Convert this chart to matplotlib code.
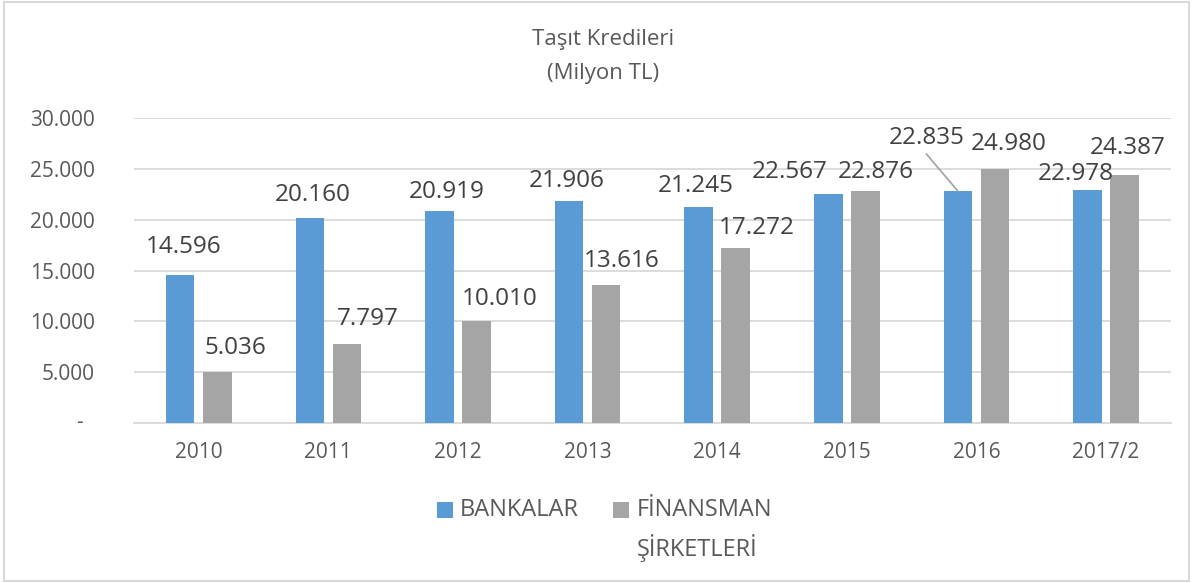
import matplotlib

matplotlib.use("Agg")
import matplotlib.pyplot as plt
import numpy as np
from matplotlib.patches import Rectangle
from matplotlib.ticker import FuncFormatter

plt.rcParams["font.family"] = ["Open Sans", "DejaVu Sans"]

years = ["2010", "2011", "2012", "2013", "2014", "2015", "2016", "2017/2"]
bankalar = [14596, 20160, 20919, 21906, 21245, 22567, 22835, 22978]
finansman = [5036, 7797, 10010, 13616, 17272, 22876, 24980, 24387]

BLUE = "#5B9BD5"
GRAY = "#A5A5A5"
GRID = "#D9D9D9"
TXT = "#595959"
LBL = "#404040"

# label offsets in pixels from bar top (Excel placed them by hand-ish)
off_b = [(3, 28), (3, 23), (7, 19), (-2, 20), (-3, 21), (-39, 22), (-31, 53), (-12, 16)]
off_f = [(18, 24), (21, 25), (23, 22), (16, 24), (21, 20), (10, 19), (14, 25), (3, 27)]

W, H = 1192, 583
fig = plt.figure(figsize=(W / 100, H / 100), dpi=100)
ax = fig.add_axes([133.9 / W, 1 - 422.7 / H, 1037 / W, 304.2 / H])

x = np.arange(len(years))
bw = 0.22
sh = 0.143
ax.bar(x - sh, bankalar, bw, color=BLUE, zorder=3)
ax.bar(x + sh, finansman, bw, color=GRAY, zorder=3)


def fmt(v):
    return f"{int(v):,}".replace(",", ".")


for i in range(len(years)):
    for vals, offs, xs in ((bankalar, off_b, x[i] - sh), (finansman, off_f, x[i] + sh)):
        v = vals[i]
        dx, dy = offs[i]
        kw = {}
        if vals is bankalar and years[i] == "2016":
            kw["arrowprops"] = dict(arrowstyle="-", color="#A6A6A6", lw=1.3,
                                    shrinkA=1, shrinkB=0, relpos=(0.45, 0))
        ax.annotate(fmt(v), xy=(xs, v), xytext=(dx, dy), textcoords="offset pixels",
                    ha="center", va="center", fontsize=17.5, color=LBL, zorder=5, **kw)

ax.set_xlim(-0.5, len(years) - 0.5)
ax.set_ylim(0, 30000)
ax.set_yticks(np.arange(0, 30001, 5000))
ax.yaxis.set_major_formatter(FuncFormatter(lambda v, p: "" if v == 0 else fmt(v)))
# Excel accounting format: zero shows as a dash sitting left of the numbers' edge
ax.text(-0.052, 0, "-", transform=ax.get_yaxis_transform(), ha="center", va="center",
        fontsize=15, color=TXT)
ax.set_xticks(x)
ax.set_xticklabels(years)
ax.tick_params(axis="y", length=0, pad=28, labelsize=15, labelcolor=TXT)
ax.tick_params(axis="x", length=0, pad=14, labelsize=15, labelcolor=TXT)
ax.grid(axis="y", color=GRID, lw=1.3, zorder=0)
ax.set_axisbelow(True)
for s in ("left", "right", "top"):
    ax.spines[s].set_visible(False)
ax.spines["bottom"].set_color(GRID)
ax.spines["bottom"].set_linewidth(1.3)

# title
fig.text(603 / W, 1 - 40 / H, "Taşıt Kredileri", ha="center", va="center", fontsize=16, color=TXT)
fig.text(603 / W, 1 - 73 / H, "(Milyon TL)", ha="center", va="center", fontsize=16, color=TXT)

# legend, drawn by hand so the square sits on the first line of the wrapped label
fig.patches.append(Rectangle((437 / W, 1 - 518 / H), 16 / W, 16 / H, transform=fig.transFigure,
                             facecolor=BLUE, edgecolor="none"))
fig.patches.append(Rectangle((613 / W, 1 - 518 / H), 16 / W, 16 / H, transform=fig.transFigure,
                             facecolor=GRAY, edgecolor="none"))
fig.text(460 / W, 1 - 510 / H, "BANKALAR", ha="left", va="center", fontsize=17, color=TXT)
fig.text(637 / W, 1 - 510 / H, "FİNANSMAN", ha="left", va="center", fontsize=17, color=TXT)
fig.text(637 / W, 1 - 548 / H, "ŞİRKETLERİ", ha="left", va="center", fontsize=17, color=TXT)

# outer chart frame
fig.patches.append(Rectangle((4 / W, 2 / H), 1185 / W, 579 / H, transform=fig.transFigure,
                             facecolor="none", edgecolor=GRID, lw=1.5))

fig.savefig("out.png", dpi=100, facecolor="white")
